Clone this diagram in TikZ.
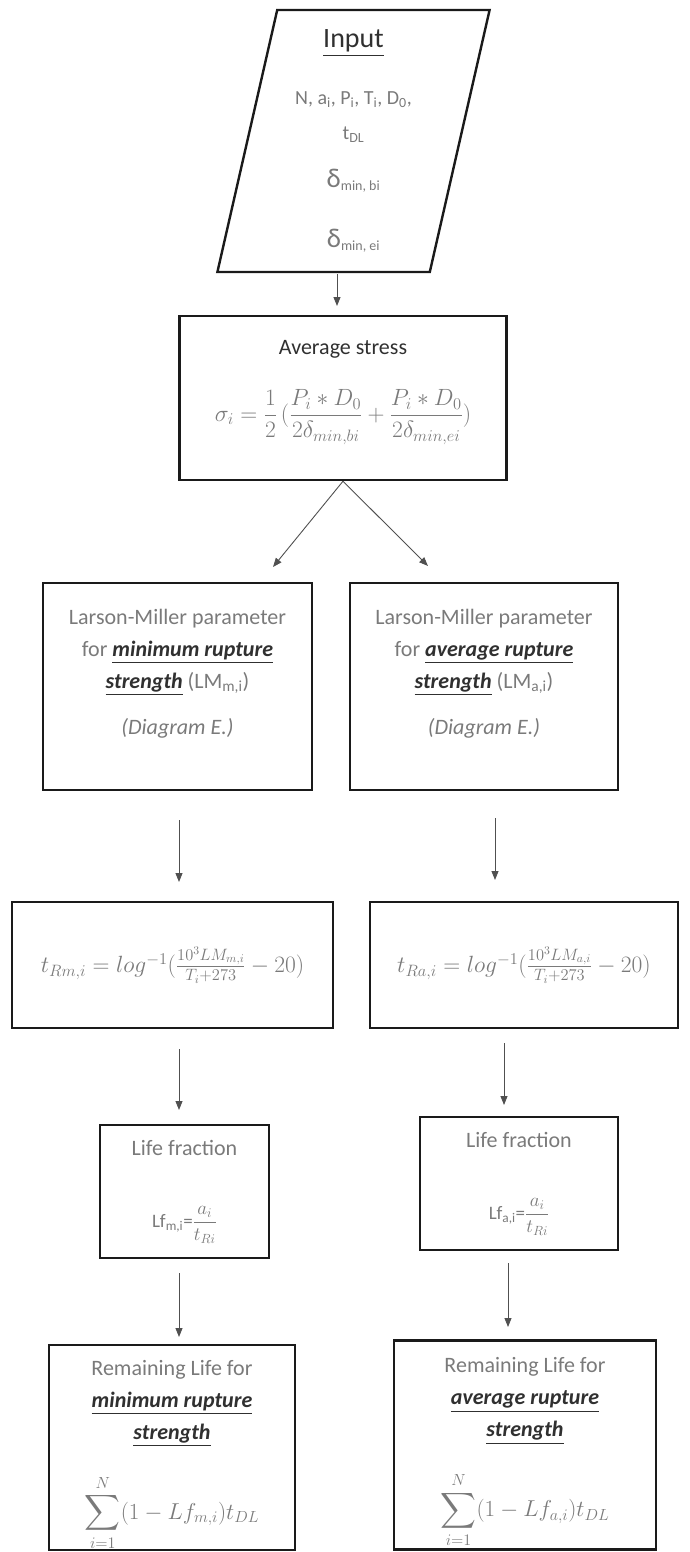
\RequirePackage{fix-cm}
\documentclass[tikz,border=0pt]{standalone}
\usepackage{amsmath}
\usepackage[no-math]{fontspec}
\setmainfont{Carlito}
\usepackage{tikz}
\usetikzlibrary{shapes.geometric, arrows.meta}
\definecolor{box_line}{HTML}{1a1a1a}
\definecolor{text_gray}{HTML}{7a7a7a}
\definecolor{text_dark}{HTML}{303030}
\definecolor{arrow_gray}{HTML}{505050}

\newcommand{\ulbi}[1]{{\color{text_dark}\underline{\textbf{\textit{#1}}}}}

\begin{document}
\begin{tikzpicture}[x=1pt, y=-1pt,
    flowbox/.style={draw=box_line, line width=2.4pt, rectangle, align=center,
      inner sep=0pt, text=text_gray, font=\fontsize{22}{32}\selectfont},
    flowarrow/.style={-{Triangle[length=9pt, width=7pt]}, arrow_gray, line width=0.9pt}]

      \useasboundingbox (0,0) rectangle (690,1552);

      % Input parallelogram
      \node[trapezium, trapezium left angle=78.4, trapezium right angle=101.6,
        trapezium stretches=true, minimum width=273pt, minimum height=262pt,
        draw=box_line, line width=2.4pt, align=center, inner sep=0pt,
        text=text_gray, font=\fontsize{20}{35}\selectfont] (inp) at (353.5,141)
        {{\fontsize{28}{34}\selectfont\color{text_dark}\underline{Input}}\\[22pt]
         N, a\textsubscript{i}, P\textsubscript{i}, T\textsubscript{i}, D\textsubscript{0},\\
         t\textsubscript{DL}\\[13pt]
         {\fontsize{27}{30}\selectfont δ}\textsubscript{min, bi}\\[25pt]
         {\fontsize{27}{30}\selectfont δ}\textsubscript{min, ei}};

      % Average stress
      \node[flowbox, minimum width=327pt, minimum height=164pt] (avg) at (343,398)
        {{\color{text_dark}Average stress}\\[30pt]
         {\fontsize{23.5}{32}\selectfont
         $\displaystyle \sigma_i = \frac{1}{2}\,(\frac{P_i * D_0}{2\delta_{min,bi}}
           + \frac{P_i * D_0}{2\delta_{min,ei}})$}\\[2pt]};

      % Larson-Miller parameters
      \node[flowbox, minimum width=269pt, minimum height=207pt] (lmm) at (177.5,686.5)
        {Larson-Miller parameter\\
         for \ulbi{minimum rupture}\\
         \ulbi{strength} (LM\textsubscript{m,i})\\[14pt]
         \textit{(Diagram E.)}\\[-2pt]};
      \node[flowbox, minimum width=268pt, minimum height=207pt] (lma) at (484,686.5)
        {Larson-Miller parameter\\
         for \ulbi{average rupture}\\
         \ulbi{strength} (LM\textsubscript{a,i})\\[14pt]
         \textit{(Diagram E.)}\\[-2pt]};

      % Rupture times
      \node[flowbox, minimum width=321pt, minimum height=126pt, font=\fontsize{23.5}{30}\selectfont]
        (trm) at (172.5,965)
        {$t_{Rm,i} = log^{-1}(\frac{10^3 LM_{m,i}}{T_i+273} - 20)$};
      \node[flowbox, minimum width=308pt, minimum height=126pt, font=\fontsize{23.5}{30}\selectfont]
        (tra) at (524,965)
        {$t_{Ra,i} = log^{-1}(\frac{10^3 LM_{a,i}}{T_i+273} - 20)$};

      % Life fractions
      \node[flowbox, minimum width=169pt, minimum height=133pt] (lfm) at (184.5,1191.5)
        {Life fraction\\[40pt]
         {\fontsize{19}{22}\selectfont Lf\textsubscript{m,i}=$\dfrac{a_i}{t_{Ri}}$}};
      \node[flowbox, minimum width=198pt, minimum height=133pt] (lfa) at (519,1183.5)
        {Life fraction\\[40pt]
         {\fontsize{19}{22}\selectfont Lf\textsubscript{a,i}=$\dfrac{a_i}{t_{Ri}}$}};

      % Remaining life
      \node[flowbox, minimum width=246pt, minimum height=205pt] (rlm) at (172,1447.5)
        {Remaining Life for\\
         \ulbi{minimum rupture}\\
         \ulbi{strength}\\[27pt]
         {\fontsize{23}{30}\selectfont$\displaystyle\sum_{i=1}^{N}(1-Lf_{m,i})t_{DL}$}\\[-16pt]};
      \node[flowbox, minimum width=262pt, minimum height=209pt] (rla) at (525,1445)
        {Remaining Life for\\
         \ulbi{average rupture}\\
         \ulbi{strength}\\[27pt]
         {\fontsize{23}{30}\selectfont$\displaystyle\sum_{i=1}^{N}(1-Lf_{a,i})t_{DL}$}\\[-16pt]};

      % Arrow end points
      \coordinate (avgin) at (337,306);
      \coordinate (lmmin) at (273,567);
      \coordinate (lmain) at (428,566);
      \coordinate (trmin) at (179,882);
      \coordinate (train) at (495,880);
      \coordinate (lfmin) at (179,1110);
      \coordinate (lfain) at (504,1105);
      \coordinate (rlmin) at (179,1337);
      \coordinate (rlain) at (508,1327);

      % Draw the arrows
      \draw[flowarrow, shorten <=1pt] (inp.south -| avgin) -- (avgin);
      \draw[flowarrow] (avg.south) -- (lmmin);
      \draw[flowarrow] (avg.south) -- (lmain);
      \draw[flowarrow, shorten <=29pt] (lmm.south -| trmin) -- (trmin);
      \draw[flowarrow, shorten <=27pt] (lma.south -| train) -- (train);
      \draw[flowarrow, shorten <=20pt] (trm.south -| lfmin) -- (lfmin);
      \draw[flowarrow, shorten <=14pt] (tra.south -| lfain) -- (lfain);
      \draw[flowarrow, shorten <=14pt] (lfm.south -| rlmin) -- (rlmin);
      \draw[flowarrow, shorten <=12pt] (lfa.south -| rlain) -- (rlain);

\end{tikzpicture}
\end{document}
